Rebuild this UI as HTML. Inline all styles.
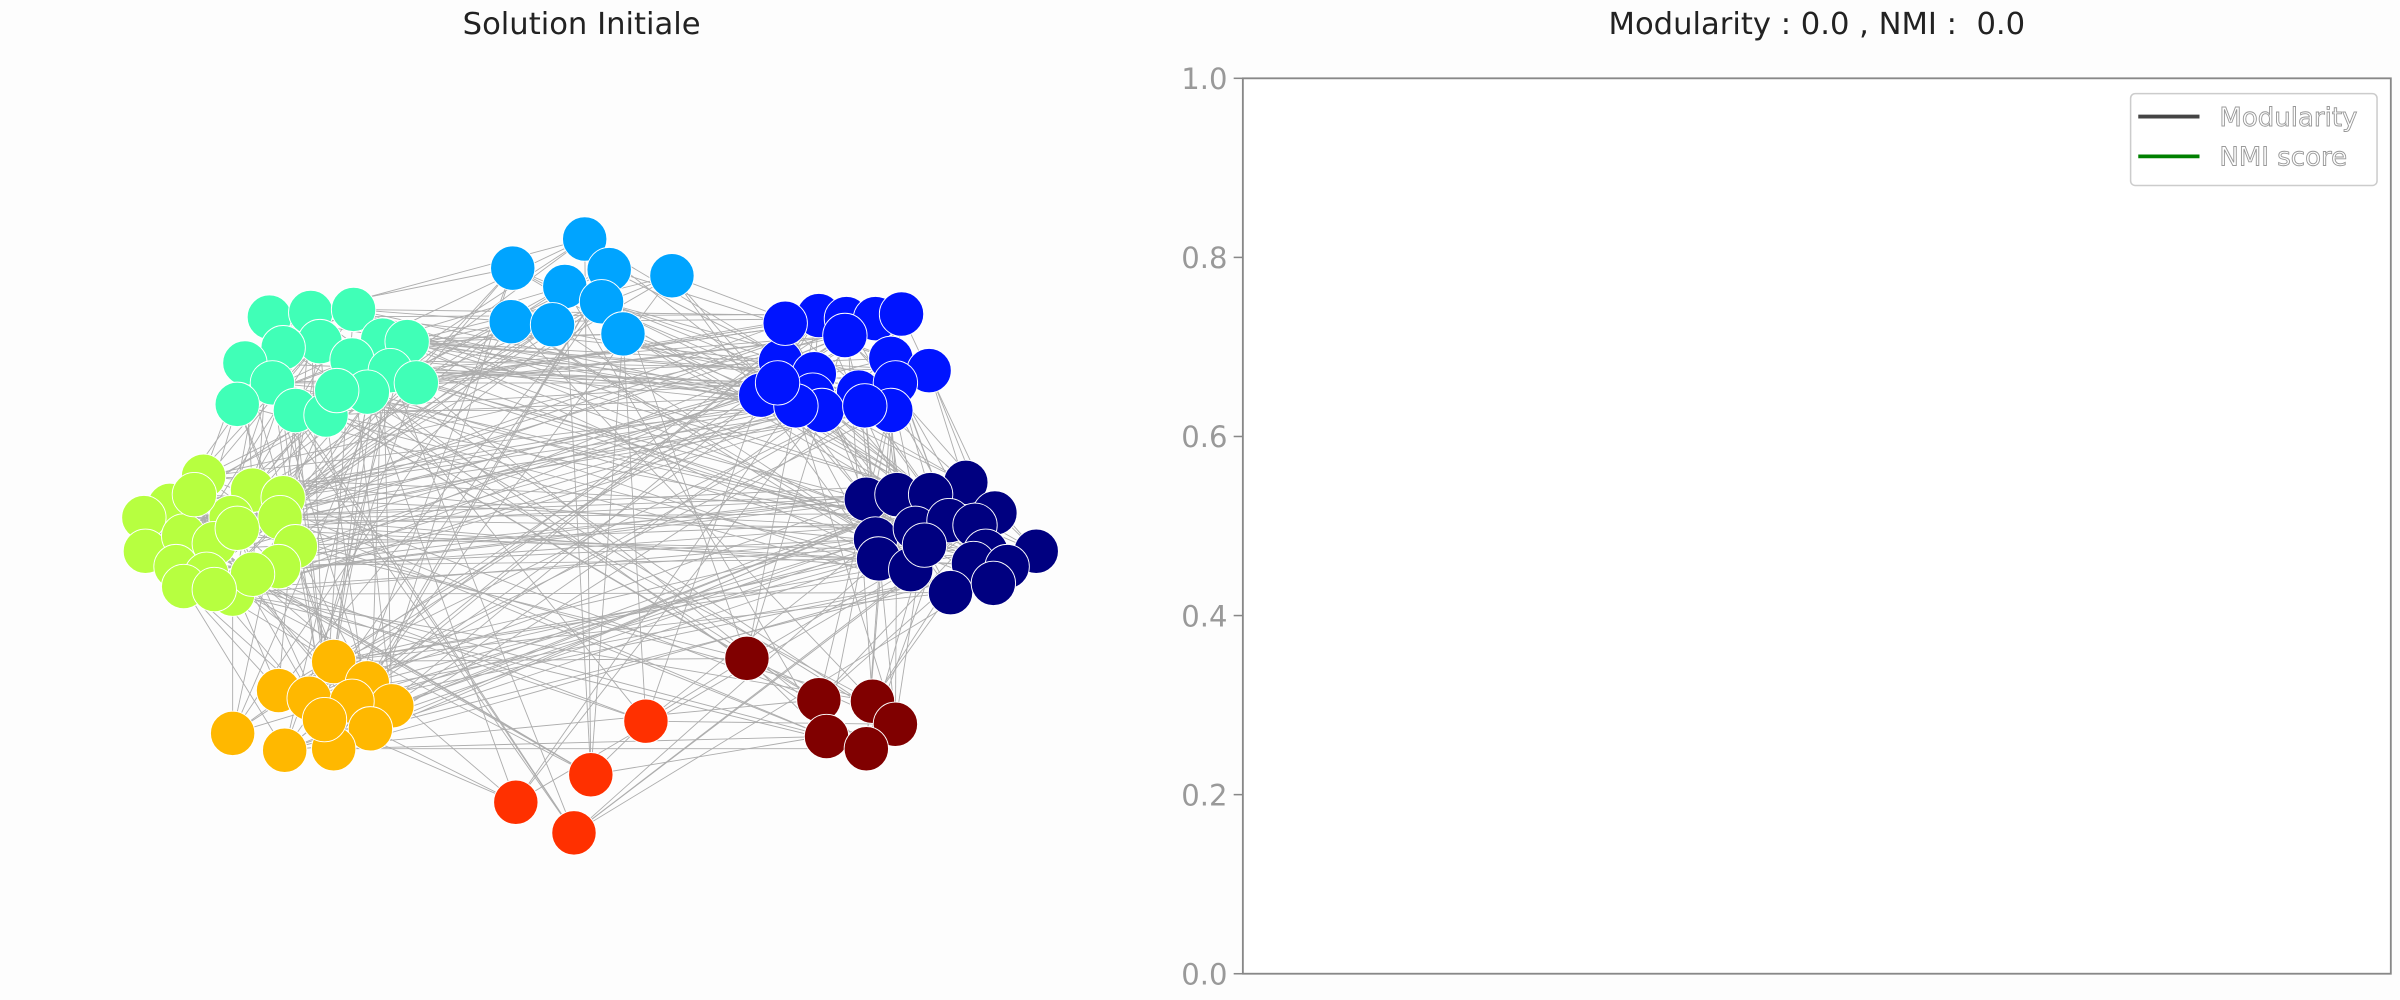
<!DOCTYPE html>
<html><head><meta charset="utf-8"><style>
html,body{margin:0;padding:0;background:#fdfdfd;}
svg{display:block;}
text{font-family:"DejaVu Sans","Liberation Sans",sans-serif;white-space:pre;}
</style></head><body>
<svg id="fig" width="2400" height="1000" viewBox="0 0 1568 653" xmlns="http://www.w3.org/2000/svg">
<rect x="0" y="0" width="1568" height="653" fill="#fdfdfd"/>
<text x="380" y="22" font-size="20" text-anchor="middle" fill="#222">Solution Initiale</text>
<g id="edges"></g>
<g id="nodes"></g>
<text x="1187" y="22" font-size="20" text-anchor="middle" fill="#222" xml:space="preserve">Modularity : 0.0 , NMI :  0.0</text>
<rect x="812" y="51" width="750" height="585" fill="#ffffff" stroke="#888" stroke-width="1.2"/>
<g id="yaxis"></g>
<g>
<rect x="1392" y="61" width="161" height="60" rx="3" fill="#fff" stroke="#ccc" stroke-width="1"/>
<line x1="1397" y1="76" x2="1437" y2="76" stroke="#444" stroke-width="2.5"/>
<text x="1450" y="82" font-size="17" fill="#fff" stroke="#999" stroke-width="0.6">Modularity</text>
<line x1="1397" y1="102" x2="1437" y2="102" stroke="#008000" stroke-width="2.5"/>
<text x="1450" y="108" font-size="17" fill="#fff" stroke="#999" stroke-width="0.6">NMI score</text>
</g>
</svg>
<script>
const clusterColors=["#00a4ff","#40ffb7","#0014ff","#b7ff40","#000080","#ffb800","#ff3000","#800000"];
const clusterNodes=[
[[382,156],[335,175],[398,176],[439,180],[369,187],[393,197],[334,210],[361,212],[407,218]],
[[176,207],[203,204],[231,202],[250,222],[266,223],[209,223],[185,227],[160,237],[230,235],[255,242],[272,250],[178,250],[155,264],[193,268],[213,271],[240,256],[220,255]],
[[535,206],[553,208],[572,208],[589,205],[552,219],[510,236],[532,244],[582,234],[607,242],[497,258],[531,258],[561,256],[585,250],[582,268],[537,268],[520,265],[565,265],[513,211],[508,250]],
[[133,311],[165,320],[185,325],[111,330],[94,338],[151,338],[183,338],[95,360],[120,350],[140,355],[193,357],[115,370],[135,375],[120,383],[152,388],[182,370],[165,375],[140,385],[127,323],[155,345]],
[[631,315],[566,326],[586,323],[608,323],[650,335],[572,352],[598,345],[620,340],[637,343],[644,360],[677,360],[574,365],[595,372],[636,368],[658,370],[621,387],[649,381],[604,356]],
[[218,432],[182,451],[202,456],[240,446],[256,461],[230,458],[242,476],[152,479],[186,490],[218,489],[212,470]],
[[422,471],[386,506],[337,524],[375,544]],
[[488,430],[535,457],[570,458],[585,473],[540,481],[566,489]]
];
const yTicks=[0.0,0.2,0.4,0.6,0.8,1.0];
const yTickLabels=["0.0","0.2","0.4","0.6","0.8","1.0"];
const modularity=[];
const nmi=[];
const NS="http://www.w3.org/2000/svg";
function yScale(v){return 636-v*585;}
const yaxis=document.getElementById('yaxis');
yTicks.forEach((v,i)=>{
  const y=yScale(v);
  const t=document.createElementNS(NS,'line');
  t.setAttribute('x1',806);t.setAttribute('x2',812);t.setAttribute('y1',y);t.setAttribute('y2',y);
  t.setAttribute('stroke','#888');
  
  
  yaxis.appendChild(t);
  const l=document.createElementNS(NS,'text');
  l.setAttribute('x',802);l.setAttribute('y',y+7);l.setAttribute('text-anchor','end');
  l.setAttribute('font-size','19');l.setAttribute('fill','#999');
  l.textContent=yTickLabels[i];
  
  
  yaxis.appendChild(l);
});
const all=[];
clusterNodes.forEach((c,ci)=>c.forEach(p=>all.push({x:p[0],y:p[1],c:ci})));
const eg=document.getElementById('edges');
let s="";
for(let i=0;i<all.length;i++){for(let j=i+1;j<all.length;j++){
  const a=all[i],b=all[j];
  const h=(i*37+j*101+i*j*7)%53;
  const keep=a.c===b.c?(h<10):(h<4);
  if(keep){s+=`<line x1="${a.x}" y1="${a.y}" x2="${b.x}" y2="${b.y}"/>`;}
}}
eg.innerHTML=s;
eg.setAttribute('stroke','#a0a0a0');
eg.setAttribute('stroke-width','0.6');
eg.setAttribute('opacity','0.85');
const ng=document.getElementById('nodes');
all.forEach(n=>{
  const c=document.createElementNS(NS,'circle');
  c.setAttribute('cx',n.x);c.setAttribute('cy',n.y);c.setAttribute('r',14.5);
  c.setAttribute('fill',clusterColors[n.c]);c.setAttribute('stroke','#fff');c.setAttribute('stroke-width','0.6');
  
  
  ng.appendChild(c);
});
</script>
</body></html>
